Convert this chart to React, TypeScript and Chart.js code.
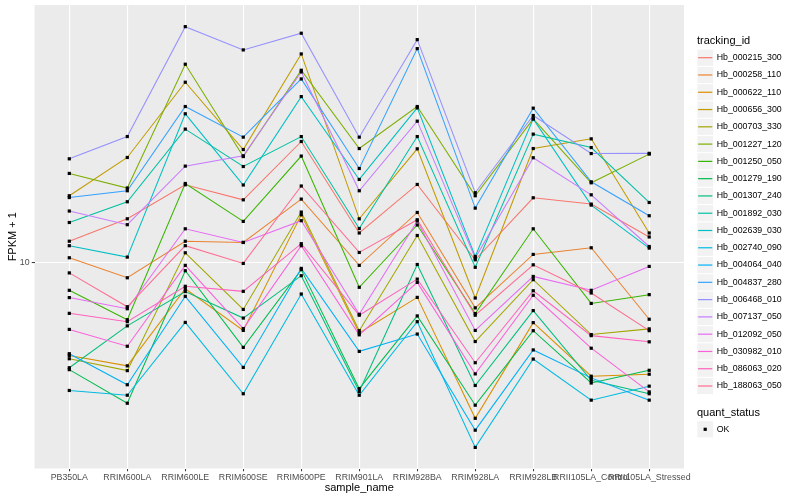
import React, { useEffect, useRef } from "react";
import { Chart, registerables } from "chart.js";

Chart.register(...registerables);

const FONT = "'Liberation Sans', Arial, Helvetica, sans-serif";

const categories = [
  "PB350LA",
  "RRIM600LA",
  "RRIM600LE",
  "RRIM600SE",
  "RRIM600PE",
  "RRIM901LA",
  "RRIM928BA",
  "RRIM928LA",
  "RRIM928LB",
  "RRII105LA_Control",
  "RRII105LA_Stressed",
];

const trackingIds = [
  "Hb_000215_300",
  "Hb_000258_110",
  "Hb_000622_110",
  "Hb_000656_300",
  "Hb_000703_330",
  "Hb_001227_120",
  "Hb_001250_050",
  "Hb_001279_190",
  "Hb_001307_240",
  "Hb_001892_030",
  "Hb_002639_030",
  "Hb_002740_090",
  "Hb_004064_040",
  "Hb_004837_280",
  "Hb_006468_010",
  "Hb_007137_050",
  "Hb_012092_050",
  "Hb_030982_010",
  "Hb_086063_020",
  "Hb_188063_050",
];

const seriesColors = [
  "#F8766D", "#EA8331", "#D89000", "#C09B00", "#A3A500",
  "#7CAE00", "#39B600", "#00BB4E", "#00BF7D", "#00C1A3",
  "#00BFC4", "#00BAE0", "#00B0F6", "#35A2FF", "#9590FF",
  "#C77CFF", "#E76BF3", "#FA62DB", "#FF62BC", "#FF6C91",
];

// FPKM + 1 per sample, in category order
const hb000215_300 = [11.32, 12.88, 15.67, 14.37, 20.11, 11.87, 15.7, 10.17, 14.54, 14.02, 11.6];
const hb000258_110 = [10.29, 9.17, 11.32, 11.24, 14.43, 9.85, 13.36, 7.71, 10.49, 10.9, 7.22];
const hb000622_110 = [5.86, 5.52, 8.61, 6.77, 13.18, 6.67, 8.19, 4.08, 7.08, 5.2, 5.26];
const hb000656_300 = [14.71, 18.34, 28.3, 19.2, 33.31, 12.88, 19.28, 8.16, 19.31, 20.42, 11.87];
const hb000703_330 = [5.75, 5.37, 10.59, 7.64, 13.39, 6.76, 11.7, 6.35, 9.07, 6.61, 6.83];
const hb001227_120 = [16.73, 15.38, 31.39, 18.44, 30.32, 19.31, 24.6, 14.71, 22.91, 15.85, 18.7];
const hb001250_050 = [8.53, 7.2, 15.79, 12.69, 18.49, 8.68, 12.43, 7.46, 12.16, 7.91, 8.32];
const hb001279_190 = [5.4, 4.45, 9.55, 6.14, 9.61, 4.84, 7.36, 4.4, 6.76, 5.0, 5.38];
const hb001307_240 = [5.46, 6.95, 8.47, 7.27, 9.28, 4.76, 9.9, 4.93, 7.59, 5.08, 4.7];
const hb001892_030 = [12.61, 14.21, 21.6, 17.41, 20.69, 12.18, 20.69, 9.74, 20.98, 19.42, 14.15];
const hb002639_030 = [11.03, 10.33, 23.59, 15.65, 26.05, 16.16, 24.41, 10.37, 22.91, 13.94, 10.88];
const hb002740_090 = [4.79, 4.66, 7.09, 4.7, 8.35, 4.66, 7.12, 3.45, 5.74, 4.53, 4.91];
const hb004064_040 = [5.92, 4.95, 8.24, 5.47, 9.68, 6.0, 6.63, 3.81, 6.05, 5.15, 4.53];
const hb004837_280 = [14.56, 15.14, 24.6, 20.62, 28.84, 17.21, 34.34, 13.7, 24.37, 15.94, 13.11];
const hb006468_010 = [18.2, 20.69, 38.98, 34.09, 37.53, 20.62, 36.17, 14.97, 23.36, 18.76, 18.78];
const hb007137_050 = [13.47, 12.45, 17.45, 18.52, 30.03, 15.14, 22.61, 10.27, 18.31, 14.79, 10.98];
const hb012092_050 = [8.18, 7.67, 12.16, 11.24, 12.74, 7.43, 12.72, 6.77, 9.24, 8.53, 9.79];
const hb030982_010 = [6.81, 6.18, 9.85, 6.84, 11.03, 6.6, 8.93, 5.27, 8.29, 6.11, 4.75];
const hb086063_020 = [7.47, 7.12, 8.73, 8.48, 11.16, 7.39, 9.1, 5.62, 8.51, 6.57, 6.34];
const hb188063_050 = [9.43, 7.76, 11.03, 9.96, 15.56, 10.61, 12.81, 7.39, 9.88, 8.4, 6.76];

const seriesValues = [
  hb000215_300, hb000258_110, hb000622_110, hb000656_300, hb000703_330,
  hb001227_120, hb001250_050, hb001279_190, hb001307_240, hb001892_030,
  hb002639_030, hb002740_090, hb004064_040, hb004837_280, hb006468_010,
  hb007137_050, hb012092_050, hb030982_010, hb086063_020, hb188063_050,
];

const yTickValues = [10];
const yTickLabels = ["10"];
const yAxisMin = 3.055;
const yAxisMax = 44.16;

const quantStatus = ["OK"];

export default function App() {
  const ref = useRef<HTMLCanvasElement>(null);

  useEffect(() => {
    const canvas = ref.current;
    if (!canvas) return;

    const panelBg = {
      id: "panelBg",
      beforeDraw(chart: any) {
        const { ctx, chartArea: a } = chart;
        ctx.save();
        ctx.fillStyle = "#EBEBEB";
        ctx.fillRect(a.left, a.top, a.right - a.left, a.bottom - a.top);
        ctx.restore();
      },
    };

    const pointsLayer = {
      id: "pointsLayer",
      afterDatasetsDraw(chart: any) {
        const ctx = chart.ctx;
        ctx.save();
        ctx.fillStyle = "#000000";
        chart.data.datasets.forEach((_: any, i: number) => {
          const meta = chart.getDatasetMeta(i);
          meta.data.forEach((el: any) => {
            ctx.fillRect(el.x - 1.6, el.y - 1.6, 3.2, 3.2);
          });
        });
        ctx.restore();
      },
    };

    const ggLegend = {
      id: "ggLegend",
      afterDraw(chart: any) {
        const ctx = chart.ctx;
        ctx.save();
        ctx.textBaseline = "middle";
        ctx.textAlign = "left";
        ctx.fillStyle = "#000000";
        ctx.font = `11px ${FONT}`;
        ctx.fillText("tracking_id", 697, 40.7);
        const keyX = 697.3;
        const keyW = 15.8;
        const step = 17.28;
        trackingIds.forEach((id, i) => {
          const cy = 57.7 + i * step;
          ctx.fillStyle = "#F2F2F2";
          ctx.fillRect(keyX, cy - 8.1, keyW, 16.2);
          ctx.strokeStyle = seriesColors[i];
          ctx.lineWidth = 1.2;
          ctx.beginPath();
          ctx.moveTo(keyX + 0.8, cy);
          ctx.lineTo(keyX + keyW - 0.8, cy);
          ctx.stroke();
          ctx.fillStyle = "#000000";
          ctx.font = `8.8px ${FONT}`;
          ctx.fillText(id, 716.7, cy);
        });
        ctx.font = `11px ${FONT}`;
        ctx.fillStyle = "#000000";
        ctx.fillText("quant_status", 697, 412.7);
        quantStatus.forEach((s, i) => {
          const cy = 429.3 + i * step;
          ctx.fillStyle = "#F2F2F2";
          ctx.fillRect(keyX, cy - 8.1, keyW, 16.2);
          ctx.fillStyle = "#000000";
          ctx.fillRect(keyX + keyW / 2 - 1.6, cy - 1.6, 3.2, 3.2);
          ctx.font = `8.8px ${FONT}`;
          ctx.fillText(s, 716.7, cy);
        });
        ctx.restore();
      },
    };

    const chart = new Chart(canvas, {
      type: "line",
      data: {
        datasets: trackingIds.map((id, i) => ({
          label: id,
          data: seriesValues[i].map((v, j) => ({ x: j, y: v })),
          borderColor: seriesColors[i],
          backgroundColor: seriesColors[i],
          borderWidth: 1.05,
          pointRadius: 0,
          pointHoverRadius: 0,
          tension: 0,
          fill: false,
          order: trackingIds.length - i,
        })),
      },
      options: {
        responsive: false,
        animation: false,
        events: [],
        layout: { padding: { left: 0, right: 116, top: 5, bottom: 0 } },
        plugins: {
          legend: { display: false },
          tooltip: { enabled: false },
        },
        scales: {
          x: {
            type: "linear",
            min: -0.6,
            max: 10.6,
            afterBuildTicks: (s: any) => {
              s.ticks = categories.map((_, i) => ({ value: i }));
            },
            afterFit: (s: any) => {
              s.height = 31.5;
              s.paddingLeft = 0;
              s.paddingRight = 0;
            },
            border: { display: false },
            grid: {
              color: "#FFFFFF",
              lineWidth: 1.1,
              tickColor: "#333333",
              tickLength: 2.75,
              tickWidth: 1,
            },
            ticks: {
              autoSkip: false,
              maxRotation: 0,
              minRotation: 0,
              padding: 0.8,
              color: "#4D4D4D",
              font: { family: FONT, size: 8.8 },
              callback: (v: any) => categories[v as number] ?? "",
            },
            title: {
              display: true,
              text: "sample_name",
              color: "#000000",
              font: { family: FONT, size: 11 },
              padding: { top: 0, bottom: 5.2 },
            },
          },
          y: {
            type: "logarithmic",
            min: yAxisMin,
            max: yAxisMax,
            afterBuildTicks: (s: any) => {
              s.ticks = yTickValues.map((v) => ({ value: v }));
            },
            afterFit: (s: any) => {
              s.width = 34.5;
              s.paddingTop = 0;
              s.paddingBottom = 0;
            },
            border: { display: false },
            grid: {
              color: "#FFFFFF",
              lineWidth: 1.1,
              tickColor: "#333333",
              tickLength: 2.75,
              tickWidth: 1,
            },
            ticks: {
              padding: 2.2,
              color: "#4D4D4D",
              font: { family: FONT, size: 8.8 },
              callback: (v: any) => {
                const k = yTickValues.indexOf(Number(v));
                return k >= 0 ? yTickLabels[k] : "";
              },
            },
            title: {
              display: true,
              text: "FPKM + 1",
              color: "#000000",
              font: { family: FONT, size: 11 },
              padding: { top: 5.9, bottom: 0 },
            },
          },
        },
      } as any,
      plugins: [panelBg, pointsLayer, ggLegend],
    });

    return () => chart.destroy();
  }, []);

  return (
    <div style={{ position: "fixed", left: 0, top: 0, width: 800, height: 500, background: "#FFFFFF" }}>
      <canvas ref={ref} width={800} height={500} style={{ display: "block", width: 800, height: 500 }} />
    </div>
  );
}
